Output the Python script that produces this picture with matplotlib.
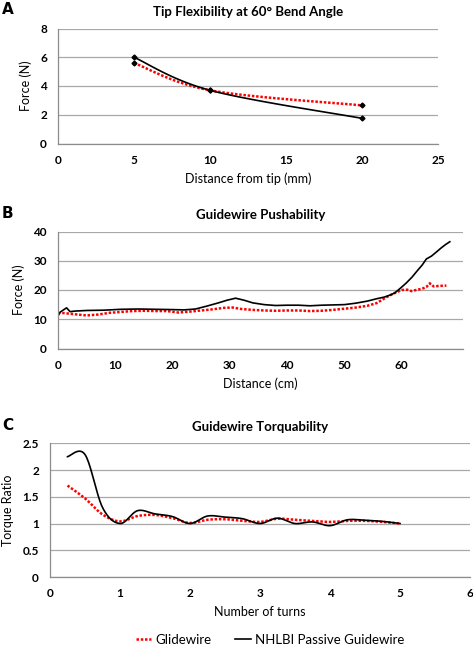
import numpy as np
import matplotlib
matplotlib.use("Agg")
import matplotlib.pyplot as plt
from matplotlib.lines import Line2D

plt.rcParams['font.family'] = ['Lato', 'DejaVu Sans']

## panel A - tip flexibility
tip_dist = [5, 10, 20]
tip_glide = [5.6, 3.7, 2.65]
tip_nhlbi = [6.0, 3.7, 1.75]

## panel B - pushability
push_x_nhlbi = [0, 0.3, 0.8, 1.5, 2.1, 3, 5, 8, 11, 14, 17, 20, 22, 24, 26, 28,
                29.5, 31, 32.5, 34, 36, 38, 40, 42, 44, 46, 48, 50, 52, 54, 55.6,
                57, 58, 58.8, 60, 60.8, 61.8, 62.6, 63.6, 64.3, 65.2, 66.0, 66.9,
                67.7, 68.4]
push_nhlbi = [11.0, 12.3, 13.0, 13.9, 12.6, 12.8, 13.0, 13.1, 13.4, 13.5, 13.4,
              13.3, 13.2, 13.5, 14.5, 15.6, 16.5, 17.2, 16.5, 15.6, 15.0, 14.7,
              14.8, 14.8, 14.6, 14.8, 14.9, 15.0, 15.5, 16.2, 17.0, 17.6, 18.3,
              19.0, 21.0, 22.4, 24.4, 26.3, 28.6, 30.6, 31.6, 32.9, 34.4, 35.6, 36.5]
push_x_glide = [0, 0.5, 2, 3.5, 5, 7, 9, 11, 13, 15, 17, 19, 21, 23, 25, 27, 29,
                30.5, 32, 34, 36, 38, 40, 42, 44, 46, 48, 50, 52, 54, 55.6, 57.4,
                58.8, 60, 61, 61.7, 62.5, 63.5, 64.3, 64.9, 65.6, 66.5, 67.8]
push_glide = [12.0, 12.2, 11.9, 11.6, 11.3, 11.6, 12.2, 12.5, 12.8, 12.9, 12.8,
              12.8, 12.3, 12.6, 13.0, 13.4, 13.9, 14.0, 13.5, 13.2, 13.0, 12.9,
              13.0, 13.0, 12.8, 12.9, 13.2, 13.6, 14.0, 14.6, 15.5, 17.6, 19.0,
              20.0, 20.1, 19.6, 20.0, 20.4, 21.0, 22.3, 21.2, 21.4, 21.5]

## panel C - torquability
turns = [0.25, 0.5, 0.75, 1.0, 1.25, 1.5, 1.75, 2.0, 2.25, 2.5, 2.75, 3.0, 3.25,
         3.5, 3.75, 4.0, 4.25, 4.5, 4.75, 5.0]
torque_glide = [1.71, 1.47, 1.17, 1.04, 1.14, 1.16, 1.1, 1.01, 1.07, 1.08, 1.05,
                1.03, 1.09, 1.07, 1.05, 1.03, 1.05, 1.05, 1.03, 1.0]
torque_nhlbi = [2.25, 2.29, 1.3, 1.0, 1.24, 1.18, 1.13, 1.0, 1.14, 1.12, 1.09,
                1.0, 1.1, 1.0, 1.03, 0.96, 1.07, 1.06, 1.04, 1.0]


def smooth(x, y, n=20):
    # catmull-rom like the excel "smoothed line" option
    x = np.asarray(x, float)
    y = np.asarray(y, float)
    px = np.concatenate([[x[0]], x, [x[-1]]])
    py = np.concatenate([[y[0]], y, [y[-1]]])
    t = np.linspace(0, 1, n)
    xs, ys = [], []
    for i in range(1, len(px) - 2):
        for p, out in ((px, xs), (py, ys)):
            p0, p1, p2, p3 = p[i - 1], p[i], p[i + 1], p[i + 2]
            out.extend(0.5 * (2 * p1 + (-p0 + p2) * t
                              + (2 * p0 - 5 * p1 + 4 * p2 - p3) * t ** 2
                              + (-p0 + 3 * p1 - 3 * p2 + p3) * t ** 3))
    return xs, ys


RED = "#ff0000"
dot = (0, (1, 0.7))
W, H = 473, 645

fig = plt.figure(figsize=(W / 100, H / 100), dpi=100)


def make_ax(l, r, t, b):
    return fig.add_axes([l / W, 1 - b / H, (r - l) / W, (b - t) / H])


def style(ax, title, xlabel, ylabel):
    ax.set_title(title, fontsize=9.5, fontweight="bold", pad=9)
    ax.set_xlabel(xlabel, fontsize=9, labelpad=5)
    ax.set_ylabel(ylabel, fontsize=9, labelpad=6)
    ax.grid(axis="y", color="#a8a8a8", linewidth=0.9)
    ax.set_axisbelow(True)
    for s in ["top", "right"]:
        ax.spines[s].set_visible(False)
    for s in ["left", "bottom"]:
        ax.spines[s].set_color("#8c8c8c")
        ax.spines[s].set_linewidth(0.9)
    ax.tick_params(length=0, labelsize=8.5, pad=8)
    for lab in ax.get_xticklabels() + ax.get_yticklabels():
        lab.set_fontweight("bold")


# A
axA = make_ax(58, 438, 28.5, 143.5)
x, y = smooth(tip_dist, tip_glide)
axA.plot(x, y, color=RED, linestyle=dot, linewidth=1.8)
x, y = smooth(tip_dist, tip_nhlbi)
axA.plot(x, y, color="black", linewidth=1.2)
axA.plot(tip_dist, tip_glide, "D", color="black", markersize=2.5)
axA.plot(tip_dist, tip_nhlbi, "D", color="black", markersize=2.5)
axA.set_xlim(0, 25)
axA.set_ylim(0, 8)
axA.set_xticks(range(0, 26, 5))
axA.set_yticks(range(0, 9, 2))
style(axA, "Tip Flexibility at 60\u00b0 Bend Angle", "Distance from tip (mm)", "Force (N)")

# B
axB = make_ax(58, 463, 231.5, 348.5)
axB.plot(push_x_glide, push_glide, color=RED, linestyle=dot, linewidth=1.8)
axB.plot(push_x_nhlbi, push_nhlbi, color="black", linewidth=1.2)
axB.set_xlim(0, 70.7)
axB.set_ylim(0, 40)
axB.set_xticks(range(0, 61, 10))
axB.set_yticks(range(0, 41, 10))
style(axB, "Guidewire Pushability", "Distance (cm)", "Force (N)")

# C
axC = make_ax(50, 470, 443.3, 577)
x, y = smooth(turns, torque_glide)
axC.plot(x, y, color=RED, linestyle=dot, linewidth=1.8)
x, y = smooth(turns, torque_nhlbi)
axC.plot(x, y, color="black", linewidth=1.2)
axC.set_xlim(0, 6)
axC.set_ylim(0, 2.5)
axC.set_xticks(range(0, 7))
axC.set_yticks([0, 0.5, 1, 1.5, 2, 2.5])
axC.set_yticklabels(["0", "0.5", "1", "1.5", "2", "2.5"])
style(axC, "Guidewire Torquability", "Number of turns", "Torque Ratio")

# panel letters
for letter, yy in [("A", 10), ("B", 214), ("C", 426)]:
    fig.text(2 / W, 1 - yy / H, letter, fontsize=11, fontweight="bold",
             family="DejaVu Sans", va="center", ha="left")

handles = [Line2D([], [], color=RED, linestyle=dot, linewidth=1.8),
           Line2D([], [], color="black", linewidth=1.2)]
fig.legend(handles, ["Glidewire", "NHLBI Passive Guidewire"], loc="center",
           bbox_to_anchor=(270 / W, 1 - 640 / H), ncol=2, frameon=False,
           fontsize=9.5, handlelength=1.2, handletextpad=0.3, columnspacing=1.8)

plt.savefig("out.png", dpi=100)
